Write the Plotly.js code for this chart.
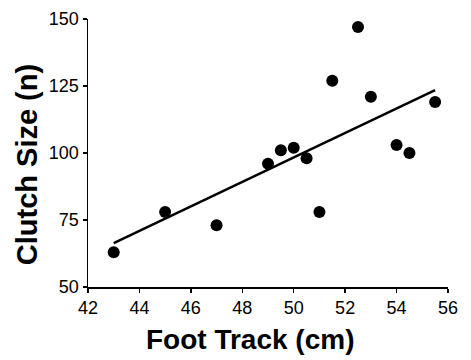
<!DOCTYPE html>
<html>
<head>
<meta charset="utf-8">
<script src="https://cdn.plot.ly/plotly-3.0.1.min.js"></script>
<style>html,body{margin:0;padding:0;background:#fff;}#chart{width:471px;height:360px;}</style>
</head>
<body>
<div id="chart"></div>
<script>
const footTrack = [43, 45, 47, 49, 49.5, 50, 50.5, 51, 51.5, 52.5, 53, 54, 54.5, 55.5];
const clutchSize = [63, 78, 73, 96, 101, 102, 98, 78, 127, 147, 121, 103, 100, 119];
const fitX = [43, 55.5];
const fitY = [66.4, 123.5];
const xTicks = [42, 44, 46, 48, 50, 52, 54, 56];
const yTicks = [50, 75, 100, 125, 150];
const xTitle = 'Foot Track (cm)';
const yTitle = 'Clutch Size (n)';

const traces = [
  {x: fitX, y: fitY, mode: 'lines', type: 'scatter', line: {color: '#000', width: 2.5}, hoverinfo: 'skip', cliponaxis: false},
  {x: footTrack, y: clutchSize, mode: 'markers', type: 'scatter', marker: {color: '#000', size: 12}, cliponaxis: false}
];

const layout = {
  width: 471, height: 360,
  margin: {l: 88, r: 23, t: 19, b: 73},
  paper_bgcolor: '#fff', plot_bgcolor: '#fff',
  showlegend: false,
  font: {family: 'Liberation Sans, Arial, sans-serif', color: '#000'},
  xaxis: {
    range: [42, 56], tickvals: xTicks, ticktext: xTicks.map(String),
    showgrid: false, zeroline: false, showline: true, linecolor: '#000', linewidth: 1.5,
    ticks: 'outside', ticklen: 4, tickwidth: 1.5, tickcolor: '#000',
    tickfont: {size: 18, color: '#000'}
  },
  yaxis: {
    range: [50, 150], tickvals: yTicks, ticktext: yTicks.map(String),
    showgrid: false, zeroline: false, showline: true, linecolor: '#000', linewidth: 1.5,
    ticks: 'outside', ticklen: 4, tickwidth: 1.5, tickcolor: '#000',
    tickfont: {size: 18, color: '#000'}
  },
  annotations: [
    {text: '<b>' + xTitle + '</b>', xref: 'paper', yref: 'paper', x: 0.449, y: -0.196,
     xanchor: 'center', yanchor: 'middle', showarrow: false, font: {size: 28, color: '#000'}},
    {text: '<b>' + yTitle + '</b>', xref: 'paper', yref: 'paper', x: -0.171, y: 0.456,
     xanchor: 'center', yanchor: 'middle', textangle: -90, showarrow: false, font: {size: 29, color: '#000'}}
  ]
};

Plotly.newPlot('chart', traces, layout, {displayModeBar: false, staticPlot: true});
</script>
</body>
</html>
